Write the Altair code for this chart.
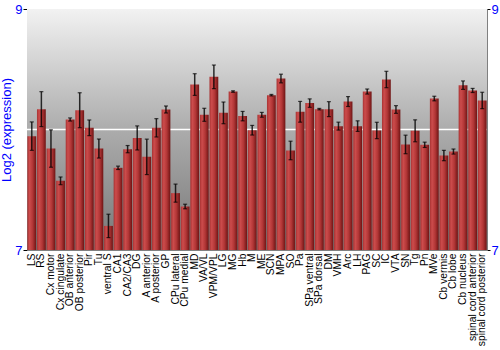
import altair as alt
import pandas as pd

categories = ["LS", "RS", "Cx motor", "Cx cingulate", "OB anterior", "OB posterior", "Pir", "Tu",
              "ventral S", "CA1", "CA2/CA3", "DG", "A anterior", "A posterior", "GP", "CPu lateral",
              "CPu medial", "MD", "VA/VL", "VPM/VPL", "LG", "MG", "Hb", "M", "ME", "SCN", "MPA",
              "SO", "Pa", "SPa ventral", "SPa dorsal", "DM", "VMH", "Arc", "LH", "PAG", "SC", "IC",
              "VTA", "SN", "Tg", "Pn", "MVe", "Cb vermis", "Cb lobe", "Cb nucleus",
              "spinal cord anterior", "spinal cord posterior"]
values = [7.945, 8.169, 7.842, 7.574, 8.083, 8.160, 8.014, 7.842,
          7.200, 7.682, 7.837, 7.930, 7.773, 8.014, 8.166, 7.472,
          7.361, 8.373, 8.122, 8.437, 8.138, 8.315, 8.111, 7.994, 8.122, 8.285, 8.423,
          7.826, 8.147, 8.219, 8.169, 8.169, 8.028, 8.232, 8.028, 8.315, 7.992, 8.415,
          8.166, 7.876, 7.989, 7.873, 8.257, 7.784, 7.817, 8.368,
          8.324, 8.241]
errors = [0.118, 0.145, 0.155, 0.032, 0.013, 0.145, 0.065, 0.079,
          0.097, 0.014, 0.030, 0.100, 0.147, 0.076, 0.029, 0.075,
          0.019, 0.090, 0.054, 0.098, 0.090, 0.006, 0.039, 0.040, 0.020, 0.006, 0.036,
          0.077, 0.086, 0.035, 0.006, 0.062, 0.033, 0.041, 0.044, 0.021, 0.068, 0.068,
          0.032, 0.077, 0.091, 0.022, 0.019, 0.043, 0.021, 0.035,
          0.017, 0.068]

df = pd.DataFrame({"region": categories, "value": values, "err": errors})
df["lo"] = df["value"] - df["err"]
df["hi"] = df["value"] + df["err"]

W, H = 460, 241
BLUE = "#0000ff"

yscale = alt.Scale(domain=[7, 9], zero=False, nice=False)
xscale = alt.Scale(domain=categories, paddingInner=0.08, paddingOuter=0.04)

bg = alt.Chart(pd.DataFrame({"a": [0]})).mark_rect(
    fill=alt.Gradient(gradient="linear", x1=0, x2=0, y1=0, y2=1,
                      stops=[alt.GradientStop(color="#f2f2f2", offset=0),
                             alt.GradientStop(color="#acacac", offset=0.5),
                             alt.GradientStop(color="#777777", offset=1)])
).encode(x=alt.value(0), x2=alt.value(W), y=alt.value(0), y2=alt.value(H))

grid = alt.Chart(pd.DataFrame({"a": [0]})).mark_rule(color="white", strokeWidth=1.5).encode(
    y=alt.datum(8, scale=yscale, axis=None)
)

bars = alt.Chart(df).mark_bar(
    fill=alt.Gradient(gradient="linear", x1=0, x2=1, y1=0, y2=0,
                      stops=[alt.GradientStop(color="#a83232", offset=0),
                             alt.GradientStop(color="#cc4c4c", offset=0.25),
                             alt.GradientStop(color="#b23636", offset=0.6),
                             alt.GradientStop(color="#6e1414", offset=1)])
).encode(
    x=alt.X("region:N", scale=xscale, sort=categories,
            axis=alt.Axis(title=None, labelAngle=-90, labelFontSize=10.3, labelFont="Liberation Sans",
                          labelColor="black", ticks=False, domain=False, labelPadding=3)),
    y=alt.Y("value:Q", scale=yscale,
            axis=alt.Axis(values=[7, 8, 9], format="d", orient="left", title="Log2 (expression)",
                          titleColor=BLUE, titleFont="Liberation Sans", titleFontSize=13,
                          titleFontWeight="normal", titlePadding=1,
                          labelColor=BLUE, labelFont="Liberation Sans", labelFontSize=13,
                          labelPadding=1, tickSize=4, tickColor="black", domainColor="#808080",
                          grid=False)),
    y2=alt.datum(7),
)

rules = alt.Chart(df).mark_rule(color="black", strokeWidth=1.5, opacity=0.8).encode(
    x=alt.X("region:N", scale=xscale, sort=categories),
    y=alt.Y("lo:Q", scale=yscale,
            axis=alt.Axis(values=[7, 8, 9], format="d", orient="right", title=None,
                          labelColor=BLUE, labelFont="Liberation Sans", labelFontSize=13,
                          labelPadding=1, tickSize=3, tickColor="black", domainColor="#808080",
                          grid=False)),
    y2="hi:Q",
)

caps_lo = alt.Chart(df).mark_tick(color="black", size=4, thickness=1.2).encode(
    x=alt.X("region:N", scale=xscale, sort=categories),
    y=alt.Y("lo:Q", scale=yscale, axis=None),
)
caps_hi = alt.Chart(df).mark_tick(color="black", size=4, thickness=1.2).encode(
    x=alt.X("region:N", scale=xscale, sort=categories),
    y=alt.Y("hi:Q", scale=yscale, axis=None),
)

chart = alt.layer(bg, grid, bars, rules, caps_lo, caps_hi).resolve_axis(
    y="independent"
).properties(
    width=W, height=H,
    autosize=alt.AutoSizeParams(type="none"),
    padding={"left": 27, "top": 9, "right": 13, "bottom": 100},
    background="white",
).configure_view(stroke="#808080", strokeWidth=1)

chart.save("out.html", embed_options={"renderer": "svg", "actions": False})
